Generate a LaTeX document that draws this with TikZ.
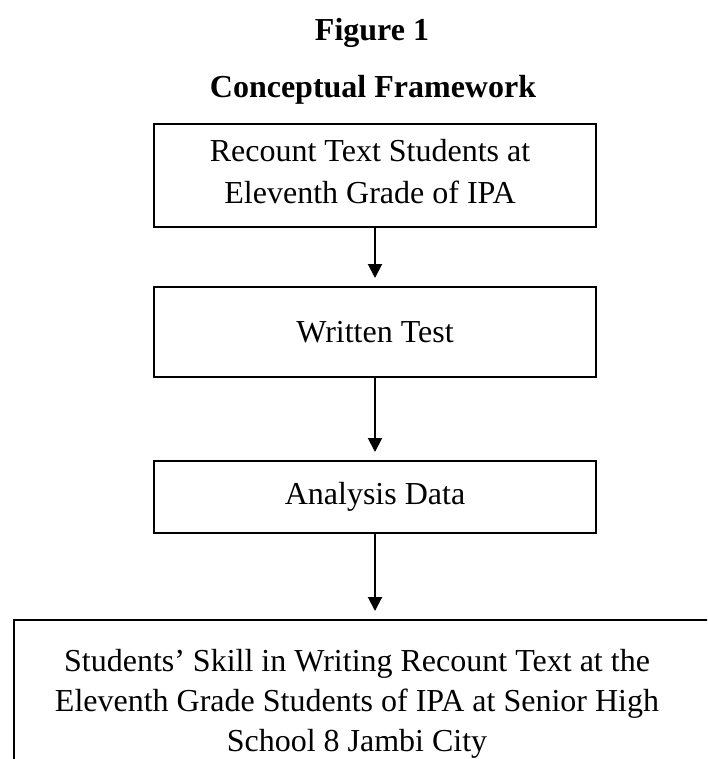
\documentclass[tikz,border=0pt]{standalone}
\usepackage{fontspec}
\setmainfont{Liberation Serif}
\usetikzlibrary{arrows.meta}
\begin{document}
\begin{tikzpicture}[x=1pt,y=-1pt,
  frame/.style={draw, line width=2pt, align=center, inner sep=0pt,
    font=\fontsize{32}{42}\selectfont},
  flow/.style={-{Triangle[length=14pt,width=14pt]}, line width=2pt, shorten >=8pt},
  heading/.style={inner sep=0pt, font=\bfseries\fontsize{32}{38}\selectfont}]
\useasboundingbox[fill=white] (0,0) rectangle (707,759);
\clip (0,0) rectangle (707,759);

% headings
\node[heading, anchor=base] (fig)   at (372,41) {Figure 1};
\node[heading, anchor=base] (title) at (373,98) {Conceptual Framework};

% flow boxes
\node[frame, minimum width=442pt, minimum height=103pt] (recount) at (375,175.5) {};
\node[align=center, inner sep=0pt, font=\fontsize{32}{42}\selectfont] (recounttext) at (370,172)
  {Recount Text Students at\\Eleventh Grade of IPA};
\node[frame, minimum width=442pt, minimum height=90pt] (test) at (375,332)
  {Written Test};
\node[frame, minimum width=442pt, minimum height=72pt] (analysis) at (375,497)
  {Analysis Data};
\node[frame, minimum width=722pt, minimum height=200pt, anchor=north] (skill) at (375,619) {};
\node[align=center, inner sep=0pt, font=\fontsize{32}{40}\selectfont] (skilltext) at (357,704)
  {Students’ Skill in Writing Recount Text at the\\Eleventh Grade Students of IPA at Senior High\\School 8 Jambi City};

% connectors
\draw[flow] (recount) -- (test);
\draw[flow] (test) -- (analysis);
\draw[flow] (analysis) -- (skill);
\end{tikzpicture}
\end{document}
